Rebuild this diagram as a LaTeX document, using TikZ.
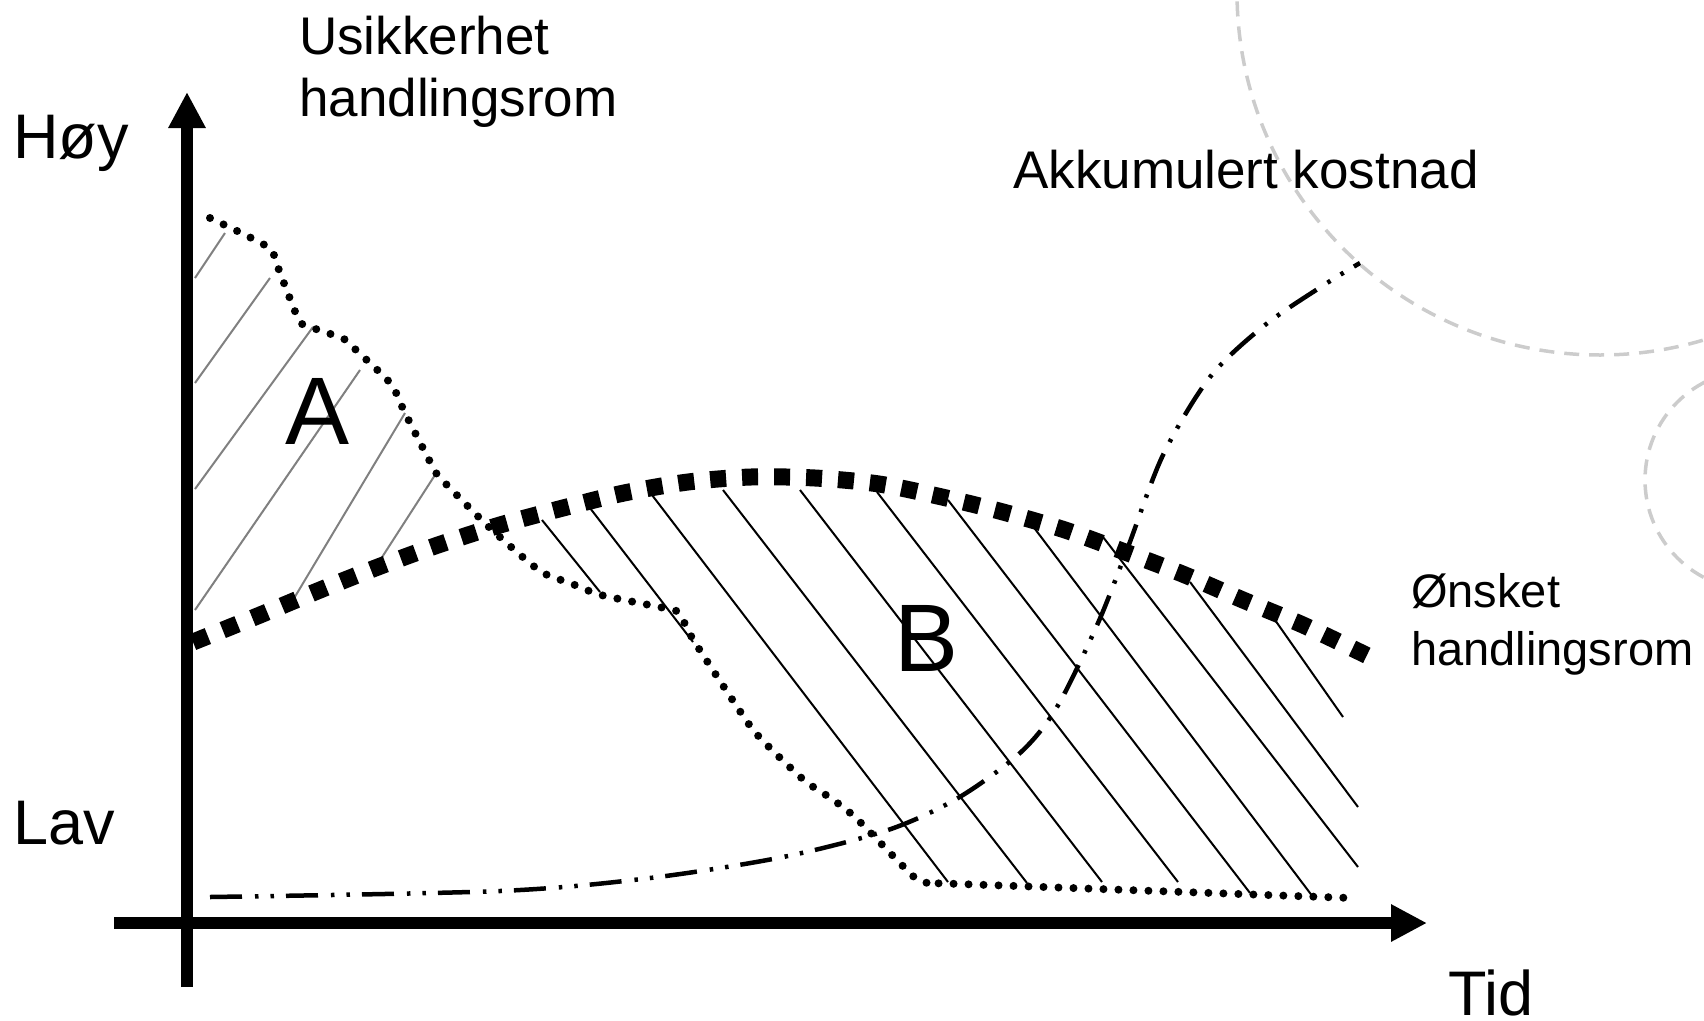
\documentclass[tikz,border=0pt]{standalone}
\usepackage{fontspec}
\setmainfont{Liberation Sans}
\usetikzlibrary{arrows.meta}
\begin{document}
\begin{tikzpicture}[x=1pt,y=-1pt,
  axisline/.style={line width=12pt,-{Triangle[length=36pt,width=35pt]}},
  dotcurve/.style={line width=8pt,line cap=round,dash pattern=on 0pt off 15pt},
  wishcurve/.style={line width=17pt,dash pattern=on 16pt off 16pt},
  costcurve/.style={line width=4.5pt,dash pattern=on 32pt off 13pt on 3.5pt off 12pt on 3.5pt off 12pt},
  hatchA/.style={line width=2pt,black!50},
  hatchB/.style={line width=2pt,black},
  ghost/.style={line width=3.5pt,black!20,dash pattern=on 15pt off 10pt},
  lbl/.style={inner sep=0pt,font=\fontsize{53}{62}\selectfont},
  biglbl/.style={inner sep=0pt,font=\fontsize{63}{72}\selectfont},
  letter/.style={inner sep=0pt,font=\fontsize{96}{110}\selectfont}]
\useasboundingbox (0,0) rectangle (1704,1020);
\begin{scope}
\clip (0,0) rectangle (1704,1020);
\draw[ghost] (1600,-8) circle[radius=363pt];
\draw[ghost] (1755,480) circle[radius=110pt];
\end{scope}
% hatch A
\draw[hatchA] (195,278) -- (225,233);
\draw[hatchA] (195,383) -- (270,278);
\draw[hatchA] (195,489) -- (313,327);
\draw[hatchA] (195,610) -- (360,370);
\draw[hatchA] (287,610) -- (405,413);
\draw[hatchA] (377,565) -- (435,475);
% hatch B
\draw[hatchB] (542,520) -- (600,592);
\draw[hatchB] (590,508) -- (693,642);
\draw[hatchB] (652,495) -- (948,882);
\draw[hatchB] (723,490) -- (1027,883);
\draw[hatchB] (800,490) -- (1102,882);
\draw[hatchB] (877,492) -- (1178,882);
\draw[hatchB] (948,500) -- (1250,893);
\draw[hatchB] (1032,525) -- (1313,897);
\draw[hatchB] (1103,537) -- (1358,867);
\draw[hatchB] (1190,582) -- (1358,807);
\draw[hatchB] (1275,620) -- (1343,717);
% axes
\coordinate (yfoot) at (187,987);
\coordinate (ytip) at (187,92);
\coordinate (xfoot) at (114,923);
\coordinate (xtip) at (1427,923);
\draw[axisline] (yfoot) -- (ytip);
\draw[axisline] (xfoot) -- (xtip);
% curves
\draw[dotcurve] plot[smooth,tension=0.4] coordinates {(210,218) (268,247) (277,265) (287,291) (300,322) (313,328) (344,339) (356,350) (391,384) (405,413) (435,471) (445,483) (491,529) (540,571) (570,583) (601,595) (664,608) (679,613) (694,641) (748,723) (769,747) (805,781) (832,799) (857,819) (914,877) (930,883) (960,884) (1351,898)};
\draw[wishcurve] plot[smooth] coordinates {(193,642) (260,615) (320,590) (378,567) (438,545) (500,525) (563,508) (624,493) (688,482) (751,477) (815,478) (879,484) (942,497) (1003,512) (1065,530) (1125,552) (1185,575) (1243,600) (1303,625) (1368,656)};
\draw[costcurve] plot[smooth] coordinates {(210,897) (500,891) (650,878) (783,857) (888,830) (958,798) (1020,753) (1057,707) (1098,623) (1128,547) (1163,455) (1210,377) (1265,325) (1327,283) (1360,263)};
% labels
\node[lbl,anchor=north west,align=left] (usik) at (299,16) {Usikkerhet\\handlingsrom};
\node[biglbl,anchor=base west] (hoy) at (13,158) {Høy};
\node[biglbl,anchor=base west] (lav) at (13,844) {Lav};
\node[biglbl,anchor=base west] (tid) at (1448,1015) {Tid};
\node[lbl,anchor=base west] (akk) at (1013,188) {Akkumulert kostnad};
\node[inner sep=0pt,font=\fontsize{47}{58}\selectfont,anchor=north west,align=left] (onsk) at (1411,573) {Ønsket\\handlingsrom};
\node[letter] (la) at (318,411) {A};
\node[letter] (lb) at (927,638) {B};
\end{tikzpicture}
\end{document}
